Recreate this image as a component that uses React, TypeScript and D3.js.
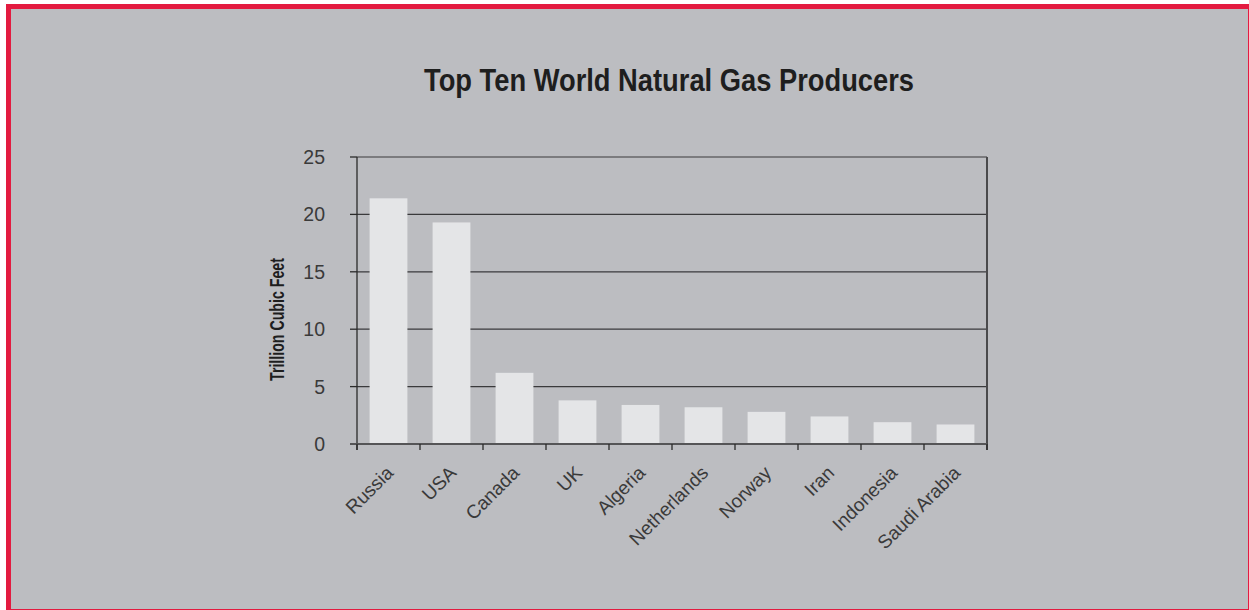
import React, { useEffect, useRef } from 'react';
import * as d3 from 'd3';

const countries = ['Russia', 'USA', 'Canada', 'UK', 'Algeria', 'Netherlands', 'Norway', 'Iran', 'Indonesia', 'Saudi Arabia'];
const production = [21.4, 19.3, 6.2, 3.8, 3.4, 3.2, 2.8, 2.4, 1.9, 1.7];
const yTicks = [0, 5, 10, 15, 20, 25];

const App: React.FC = () => {
  const svgRef = useRef<SVGSVGElement>(null);

  useEffect(() => {
    if (!svgRef.current) return;
    const width = 1249;
    const height = 610;
    const plot = { left: 357, right: 987, top: 157, bottom: 444 };

    const svg = d3.select(svgRef.current);
    svg.selectAll('*').remove();

    // frame
    svg.append('rect').attr('x', 6).attr('y', 4).attr('width', width - 6).attr('height', height - 4).attr('fill', '#e31b40');
    svg.append('rect').attr('x', 11).attr('y', 9).attr('width', width - 12).attr('height', height - 10).attr('fill', '#bcbdc1');

    const x = d3.scaleBand<string>().domain(countries).range([plot.left, plot.right]).paddingInner(0.4).paddingOuter(0.2);
    const y = d3.scaleLinear().domain([0, 25]).range([plot.bottom, plot.top]);

    const g = svg.append('g');

    // gridlines
    g.selectAll('.grid')
      .data(yTicks.filter(t => t > 0))
      .enter().append('line')
      .attr('x1', plot.left).attr('x2', plot.right)
      .attr('y1', d => y(d)).attr('y2', d => y(d))
      .attr('stroke', '#3a3a3c').attr('stroke-width', 1.2);

    // bars
    g.selectAll('.bar')
      .data(countries)
      .enter().append('rect')
      .attr('x', d => x(d)!)
      .attr('width', x.bandwidth())
      .attr('y', (d, i) => y(production[i]))
      .attr('height', (d, i) => plot.bottom - y(production[i]))
      .attr('fill', '#e4e5e7');

    // right border
    g.append('line').attr('x1', plot.right).attr('x2', plot.right).attr('y1', plot.top).attr('y2', plot.bottom + 6)
      .attr('stroke', '#4a4a4c').attr('stroke-width', 2);

    // y axis
    g.append('line').attr('x1', plot.left).attr('x2', plot.left).attr('y1', plot.top).attr('y2', plot.bottom + 6)
      .attr('stroke', '#2a2a2a').attr('stroke-width', 1.3);
    g.selectAll('.ytick')
      .data(yTicks)
      .enter().append('line')
      .attr('x1', plot.left - 7).attr('x2', plot.left)
      .attr('y1', d => y(d)).attr('y2', d => y(d))
      .attr('stroke', '#2a2a2a').attr('stroke-width', 1.3);
    g.selectAll('.ylabel')
      .data(yTicks)
      .enter().append('text')
      .attr('x', 325)
      .attr('y', d => y(d))
      .attr('dy', '0.36em')
      .attr('text-anchor', 'end')
      .attr('font-family', 'Liberation Sans, Arial, sans-serif')
      .attr('font-size', 19.5)
      .attr('fill', '#3a3a3a')
      .text(d => d);

    // x axis
    g.append('line').attr('x1', plot.left - 7).attr('x2', plot.right).attr('y1', plot.bottom).attr('y2', plot.bottom)
      .attr('stroke', '#555557').attr('stroke-width', 2);
    const stepW = (plot.right - plot.left) / countries.length;
    g.selectAll('.xtick')
      .data(d3.range(countries.length + 1))
      .enter().append('line')
      .attr('x1', i => plot.left + i * stepW)
      .attr('x2', i => plot.left + i * stepW)
      .attr('y1', plot.bottom)
      .attr('y2', plot.bottom + 6)
      .attr('stroke', '#2a2a2a').attr('stroke-width', 1.3);

    g.selectAll('.xlabel')
      .data(countries)
      .enter().append('text')
      .attr('transform', d => `translate(${x(d)! + x.bandwidth() / 2 + 6},${plot.bottom + 30}) rotate(-45)`)
      .attr('text-anchor', 'end')
      .attr('font-family', 'Liberation Sans, Arial, sans-serif')
      .attr('font-size', 19)
      .attr('fill', '#3a3a3a')
      .text(d => d);

    // title
    svg.append('text')
      .attr('x', 669).attr('y', 91)
      .attr('text-anchor', 'middle')
      .attr('font-family', 'Liberation Sans, Arial, sans-serif')
      .attr('font-weight', 'bold')
      .attr('font-size', 31)
      .attr('textLength', 490)
      .attr('lengthAdjust', 'spacingAndGlyphs')
      .attr('fill', '#1e1e1e')
      .text('Top Ten World Natural Gas Producers');

    // y axis title
    svg.append('text')
      .attr('transform', `translate(284,319.5) rotate(-90)`)
      .attr('text-anchor', 'middle')
      .attr('font-family', 'Liberation Sans, Arial, sans-serif')
      .attr('font-weight', 'bold')
      .attr('font-size', 19.5)
      .attr('textLength', 123)
      .attr('lengthAdjust', 'spacingAndGlyphs')
      .attr('fill', '#1e1e1e')
      .text('Trillion Cubic Feet');
  }, []);

  return (
    <div style={{ position: 'fixed', left: 0, top: 0, width: 1249, height: 610 }}>
      <svg ref={svgRef} width={1249} height={610} style={{ display: 'block' }} />
    </div>
  );
};

export default App;
